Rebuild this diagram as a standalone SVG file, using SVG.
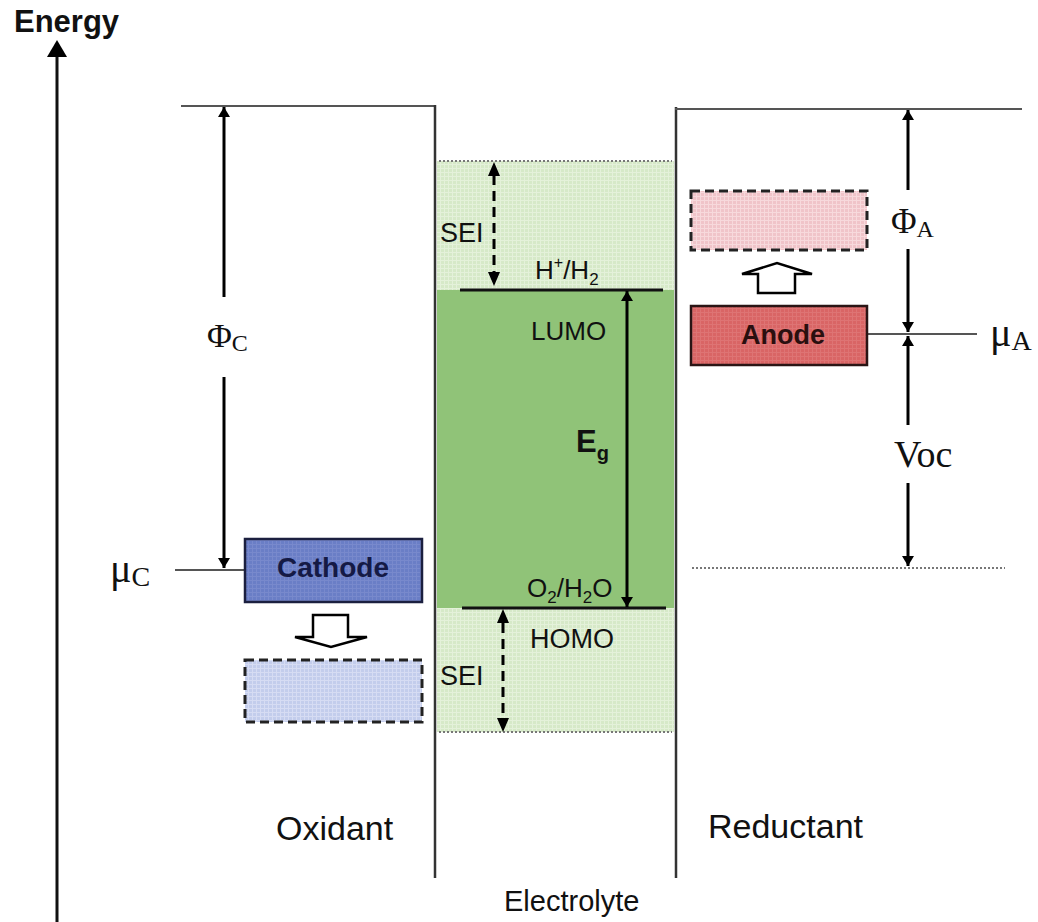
<svg xmlns="http://www.w3.org/2000/svg" width="1038" height="922" viewBox="0 0 1038 922">
<defs>
<marker id="ah" viewBox="0 0 10 12" refX="10" refY="6" markerWidth="11" markerHeight="12" markerUnits="userSpaceOnUse" orient="auto">
<path d="M0,0 L10,6 L0,12 Z" fill="#000"/>
</marker>
<pattern id="pLightGreen" width="4" height="4" patternUnits="userSpaceOnUse">
<rect width="4" height="4" fill="#d6e9c8"/>
<path d="M0,0.5 H4 M0.5,0 V4" stroke="#e4f1da" stroke-width="1"/>
</pattern>
<pattern id="pBlue" width="4" height="4" patternUnits="userSpaceOnUse">
<rect width="4" height="4" fill="#c3cdec"/>
<path d="M0,0.5 H4 M0.5,0 V4" stroke="#d6dcf3" stroke-width="1"/>
</pattern>
<pattern id="pPink" width="4" height="4" patternUnits="userSpaceOnUse">
<rect width="4" height="4" fill="#f0c4c9"/>
<path d="M0,0.5 H4 M0.5,0 V4" stroke="#f7d9dc" stroke-width="1"/>
</pattern>
<pattern id="pCathode" width="4" height="4" patternUnits="userSpaceOnUse">
<rect width="4" height="4" fill="#6a7ec6"/>
<path d="M0,0.5 H4 M0.5,0 V4" stroke="#7889cc" stroke-width="1"/>
</pattern>
<pattern id="pAnode" width="4" height="4" patternUnits="userSpaceOnUse">
<rect width="4" height="4" fill="#d96565"/>
<path d="M0,0.5 H4 M0.5,0 V4" stroke="#de7474" stroke-width="1"/>
</pattern>
</defs>
<style>
.sans{font-family:"Liberation Sans",Arial,sans-serif;fill:#111}
.serif{font-family:"Liberation Serif","Times New Roman",serif;fill:#111}
.bold{font-weight:bold}
.frame{stroke:#333;stroke-width:2.5;fill:none}
.level{stroke:#555;stroke-width:2;fill:none}
.dot{stroke:#777;stroke-width:2;stroke-dasharray:2,2;fill:none}
.arr{stroke:#000;stroke-width:3;fill:none;marker-end:url(#ah)}
.darr{stroke:#000;stroke-width:3;fill:none;stroke-dasharray:10,6}
.blk{fill:#fff;stroke:#000;stroke-width:2.5;stroke-linejoin:miter}
.dash{stroke:#222;stroke-width:3;stroke-dasharray:9,5}
</style>
<rect width="1038" height="922" fill="#fff"/>

<g id="electrolyte">
<rect x="437" y="161" width="237" height="571" fill="url(#pLightGreen)"/>
<rect x="437" y="290" width="237" height="318" fill="#90c378"/>
<line class="dot" x1="439" y1="161" x2="672" y2="161"/>
<line class="dot" x1="439" y1="732" x2="672" y2="732"/>
<line stroke="#111" stroke-width="3" x1="460" y1="290" x2="663" y2="290"/>
<line stroke="#111" stroke-width="3" x1="462" y1="608" x2="666" y2="608"/>
<text class="sans" x="535" y="279" font-size="26">H<tspan font-size="16" dy="-11">+</tspan><tspan dy="11">/H</tspan><tspan font-size="17" dy="6">2</tspan></text>
<text class="sans" x="531" y="340" font-size="26">LUMO</text>
<text class="sans" x="527" y="597" font-size="26">O<tspan font-size="17" dy="6">2</tspan><tspan dy="-6">/H</tspan><tspan font-size="17" dy="6">2</tspan><tspan dy="-6">O</tspan></text>
<text class="sans" x="530" y="648" font-size="27">HOMO</text>
<text class="sans" x="440" y="242" font-size="27">SEI</text>
<text class="sans" x="440" y="685" font-size="27">SEI</text>
<text class="sans bold" x="576" y="452" font-size="31">E<tspan font-size="20" dy="8">g</tspan></text>
</g>

<g id="frame">
<line stroke="#111" stroke-width="3" x1="57" y1="922" x2="57" y2="50"/>
<path d="M47,57 L57,40 L67,57 Z" fill="#000"/>
<line class="level" x1="181" y1="106" x2="436" y2="106"/>
<line class="frame" x1="435" y1="105" x2="435" y2="878"/>
<line class="frame" x1="676" y1="107" x2="676" y2="878"/>
<line class="level" x1="675" y1="109" x2="1022" y2="109"/>
<line class="dot" x1="692" y1="568" x2="1005" y2="568"/>
<text class="sans bold" x="14" y="32" font-size="31">Energy</text>
<text class="sans" x="276" y="840" font-size="34">Oxidant</text>
<text class="sans" x="708" y="838" font-size="34">Reductant</text>
<text class="sans" x="504" y="911" font-size="29">Electrolyte</text>
</g>

<g id="cathode">
<line class="level" x1="175" y1="570" x2="245" y2="570"/>
<rect x="245" y="539" width="177" height="63" fill="url(#pCathode)" stroke="#1b1f3f" stroke-width="2.5"/>
<text class="sans bold" x="333" y="577" font-size="28" text-anchor="middle" style="fill:#151a45">Cathode</text>
<text class="serif" x="110" y="582" font-size="40">μ<tspan font-size="28" dy="4">C</tspan></text>
</g>

<g id="cathode-reduced">
<rect x="245" y="660" width="177" height="62" fill="url(#pBlue)" class="dash"/>
</g>

<g id="cathode-shift">
<path class="blk" d="M313,615 H348 V637 H367 L331,647 L295,637 H313 Z"/>
</g>

<g id="anode">
<line class="level" x1="867" y1="334" x2="977" y2="334"/>
<rect x="691" y="306" width="176" height="59" fill="url(#pAnode)" stroke="#2a1515" stroke-width="2.5"/>
<text class="sans bold" x="783" y="344" font-size="27" text-anchor="middle" style="fill:#2a0f0f">Anode</text>
<text class="serif" x="990" y="346" font-size="40">μ<tspan font-size="28" dy="4">A</tspan></text>
</g>

<g id="anode-oxidized">
<rect x="691" y="191" width="176" height="59" fill="url(#pPink)" class="dash"/>
</g>

<g id="anode-shift">
<path class="blk" d="M758,293 H795 V274 H812 L777,263 L742,274 H758 Z"/>
</g>

<g id="labels">
<text class="serif" x="207" y="347" font-size="34">Φ<tspan font-size="24" dy="4">C</tspan></text>
<text class="serif" x="891" y="233" font-size="35">Φ<tspan font-size="24" dy="4">A</tspan></text>
<text class="serif" x="894" y="467" font-size="38">Voc</text>
</g>

<g id="connectors">
<line class="arr" x1="224" y1="297" x2="224" y2="107"/>
<line class="arr" x1="224" y1="377" x2="224" y2="568"/>
<line class="arr" x1="908" y1="190" x2="908" y2="110"/>
<line class="arr" x1="908" y1="249" x2="908" y2="332"/>
<line class="arr" x1="908" y1="425" x2="908" y2="336"/>
<line class="arr" x1="908" y1="483" x2="908" y2="566"/>
<line class="arr" x1="627" y1="450" x2="627" y2="291"/>
<line class="arr" x1="627" y1="450" x2="627" y2="607"/>
<line class="darr" x1="494" y1="175" x2="494" y2="272"/>
<path d="M488,176 L494,162 L500,176 Z M488,272 L494,286 L500,272 Z" fill="#000"/>
<line class="darr" x1="503" y1="623" x2="503" y2="718"/>
<path d="M497,623 L503,609 L509,623 Z M497,718 L503,732 L509,718 Z" fill="#000"/>
</g>
</svg>
